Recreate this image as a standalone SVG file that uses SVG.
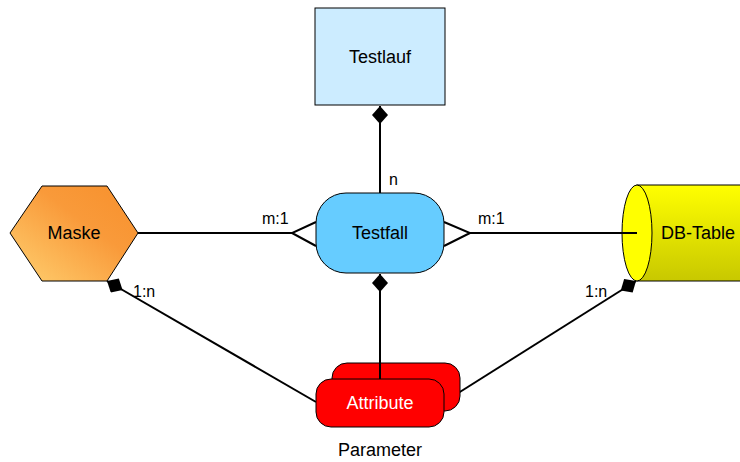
<svg xmlns="http://www.w3.org/2000/svg" width="740" height="462" viewBox="0 0 740 462">
<defs>
<linearGradient id="gMaske" x1="0" y1="1" x2="1" y2="0">
<stop offset="0" stop-color="#FFD070"/>
<stop offset="0.6" stop-color="#F99A3A"/>
<stop offset="1" stop-color="#F7902C"/>
</linearGradient>
<linearGradient id="gDB" x1="0" y1="0" x2="0" y2="1">
<stop offset="0" stop-color="#FFFF00"/>
<stop offset="1" stop-color="#C8C800"/>
</linearGradient>
<marker id="dia" viewBox="-9 -8 18 16" markerWidth="18" markerHeight="16" refX="-9" refY="0" orient="auto" markerUnits="userSpaceOnUse">
<path d="M-9,0 L0,-8 L9,0 L0,8 Z" fill="#000"/>
</marker>
</defs>
<style>
.node{stroke:#000;stroke-width:1}
.t{font-family:"Liberation Sans",Arial,sans-serif;font-size:18px;text-anchor:middle;fill:#000}
.l{font-family:"Liberation Sans",Arial,sans-serif;font-size:16px;fill:#000}
.c{stroke:#000;stroke-width:2;fill:none}
</style>
<rect width="740" height="462" fill="#fff"/>
<g id="connectors">
<line class="c" x1="380" y1="106" x2="380" y2="193" marker-start="url(#dia)"/>
<line class="c" x1="138" y1="233" x2="292" y2="233"/>
<polyline class="c" points="316,222 292,233 316,246"/>
<line class="c" x1="470" y1="233" x2="637" y2="233"/>
<polyline class="c" points="444,222 470,233 444,246"/>
<line class="c" x1="380" y1="274" x2="380" y2="379" marker-start="url(#dia)"/>
<line class="c" x1="107" y1="281" x2="316" y2="402" marker-start="url(#dia)"/>
<line class="c" x1="636" y1="281" x2="444" y2="402" marker-start="url(#dia)"/>
<text class="l" x="389" y="185">n</text>
<text class="l" x="262" y="224">m:1</text>
<text class="l" x="478" y="224">m:1</text>
<text class="l" x="133" y="297">1:n</text>
<text class="l" x="585" y="297">1:n</text>
</g>
<g id="Testlauf">
<rect class="node" x="315" y="8" width="130" height="97" fill="#CCECFF"/>
<text class="t" x="380" y="63">Testlauf</text>
</g>
<g id="Testfall">
<rect class="node" x="316" y="193" width="128" height="80" rx="30" fill="#66CCFF"/>
<text class="t" x="380" y="239">Testfall</text>
</g>
<g id="Maske">
<polygon class="node" points="10,233 42,186 107,186 138,233 107,281 42,281" fill="url(#gMaske)"/>
<text class="t" x="74" y="239">Maske</text>
</g>
<g id="DB-Table">
<rect class="node" x="637" y="185" width="120" height="96" fill="url(#gDB)"/>
<ellipse class="node" cx="637" cy="233" rx="15" ry="48" fill="#FFFF00"/>
<line class="c" x1="622" y1="233" x2="637" y2="233"/>
<text class="t" x="698" y="239">DB-Table</text>
</g>
<g id="Attribute">
<rect class="node" x="332" y="363" width="128" height="48" rx="15" fill="#FF0000"/>
<line class="c" x1="380" y1="363" x2="380" y2="379"/>
<rect class="node" x="316" y="379" width="128" height="48" rx="15" fill="#FF0000"/>
<text class="t" x="380" y="409" style="fill:#fff">Attribute</text>
<text class="t" x="380" y="456">Parameter</text>
</g>
</svg>
